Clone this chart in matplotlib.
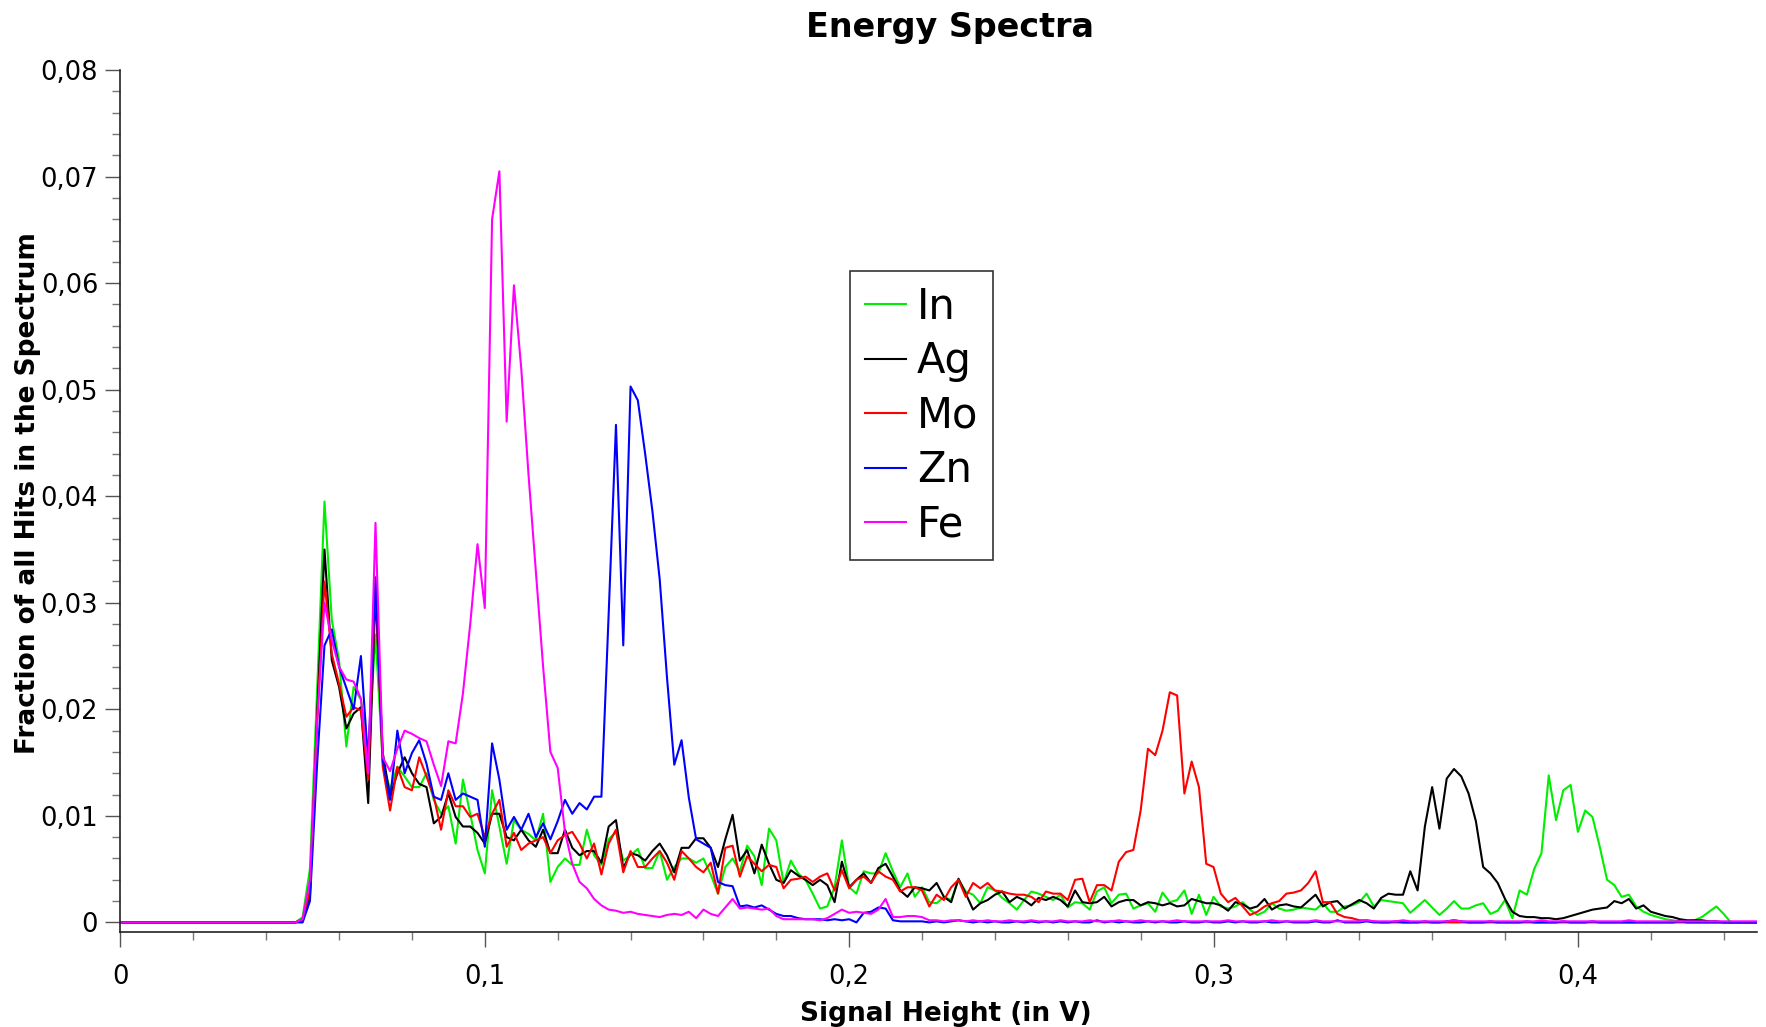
"""
plot.py

Energy spectra of the five targets (In, Ag, Mo, Zn, Fe).
- Fraction of all hits per 0.002 V bin of signal height.
- Saves the figure to out.png.
"""

from typing import List

from matplotlib import pyplot as plt
from matplotlib.ticker import MultipleLocator, FuncFormatter
import numpy as np


# bins of the spectrum: first bin at 0.040 V, 0.002 V wide (ten bins per row below)
bin_start: float = 0.040
bin_width: float = 0.002

elements: List[str] = ["In", "Ag", "Mo", "Zn", "Fe"]
colors: List[str] = ["#00ee00", "#000000", "#ff0000", "#0000ff", "#ff00ff"]

indium: List[float] = [
    0, 0, 0, 0, 0, 0.0005, 0.005, 0.022, 0.0395, 0.0284,
    0.0246, 0.0165, 0.0221, 0.0209, 0.016, 0.027, 0.0149, 0.0125, 0.0146, 0.0137,
    0.0127, 0.0127, 0.014, 0.0115, 0.0102, 0.0109, 0.0074, 0.0134, 0.0102, 0.0068,
    0.0046, 0.0124, 0.009, 0.0055, 0.0096, 0.0087, 0.0083, 0.0077, 0.0102, 0.0038,
    0.0052, 0.006, 0.0054, 0.0054, 0.0087, 0.0063, 0.0054, 0.0078, 0.0085, 0.0058,
    0.0063, 0.0069, 0.0051, 0.0051, 0.0067, 0.004, 0.0052, 0.006, 0.006, 0.0056,
    0.006, 0.0045, 0.0027, 0.0052, 0.006, 0.0048, 0.0072, 0.0062, 0.0035, 0.0088,
    0.0077, 0.0037, 0.0058, 0.0046, 0.004, 0.0027, 0.0013, 0.0015, 0.0033, 0.0077,
    0.0033, 0.0027, 0.0048, 0.0046, 0.0046, 0.0065, 0.0048, 0.0033, 0.0046, 0.0024,
    0.0033, 0.0019, 0.0018, 0.0024, 0.0021, 0.004, 0.0029, 0.0026, 0.0018, 0.0033,
    0.003, 0.0023, 0.0018, 0.0012, 0.0021, 0.0029, 0.0027, 0.0024, 0.0021, 0.0026,
    0.0014, 0.0019, 0.0018, 0.0012, 0.0029, 0.0033, 0.0018, 0.0026, 0.0027, 0.0013,
    0.0016, 0.0018, 0.001, 0.0028, 0.0019, 0.0021, 0.003, 0.0008, 0.0026, 0.0007,
    0.0024, 0.0015, 0.0013, 0.0015, 0.0019, 0.0012, 0.0007, 0.001, 0.0018, 0.0013,
    0.0011, 0.0012, 0.0014, 0.0013, 0.0012, 0.0018, 0.001, 0.001, 0.0015, 0.0016,
    0.0019, 0.0027, 0.0015, 0.0021, 0.002, 0.0019, 0.0018, 0.0009, 0.0015, 0.0021,
    0.0014, 0.0007, 0.0013, 0.002, 0.0013, 0.0013, 0.0016, 0.0018, 0.0008, 0.0011,
    0.0021, 0.0004, 0.003, 0.0026, 0.005, 0.0065, 0.0138, 0.0096, 0.0124, 0.0129,
    0.0085, 0.0105, 0.0099, 0.0071, 0.004, 0.0035, 0.0024, 0.0026, 0.0015, 0.001,
    0.0007, 0.0005, 0.0003, 0.0002, 0.0001, 0.0001, 0.0002, 0.0005, 0.001, 0.0015,
    0.0008, 0, 0, 0, 0, 0, 0, 0, 0, 0,
]

silver: List[float] = [
    0, 0, 0, 0, 0, 0.0002, 0.0024, 0.0196, 0.035, 0.0246,
    0.0221, 0.0182, 0.0196, 0.0202, 0.0112, 0.031, 0.0159, 0.0118, 0.014, 0.0155,
    0.014, 0.013, 0.0127, 0.0093, 0.0099, 0.0121, 0.0099, 0.009, 0.009, 0.0084,
    0.0074, 0.0102, 0.0102, 0.008, 0.0077, 0.0087, 0.0077, 0.0071, 0.0087, 0.0065,
    0.0065, 0.0087, 0.007, 0.0063, 0.0067, 0.0067, 0.0056, 0.009, 0.0096, 0.0051,
    0.0065, 0.0063, 0.0058, 0.0067, 0.0074, 0.0063, 0.0047, 0.007, 0.007, 0.0079,
    0.0079, 0.007, 0.0052, 0.0078, 0.0101, 0.0058, 0.0068, 0.0046, 0.0073, 0.0055,
    0.004, 0.0037, 0.0049, 0.0044, 0.004, 0.0035, 0.004, 0.0035, 0.0019, 0.0057,
    0.0033, 0.004, 0.0046, 0.0037, 0.0051, 0.0055, 0.0043, 0.003, 0.0024, 0.0033,
    0.0032, 0.003, 0.0037, 0.0024, 0.0019, 0.0041, 0.0027, 0.0012, 0.0018, 0.0021,
    0.0026, 0.0029, 0.0019, 0.0024, 0.0021, 0.0016, 0.0023, 0.0021, 0.0024, 0.0021,
    0.0015, 0.003, 0.0019, 0.0018, 0.0019, 0.0024, 0.0015, 0.0019, 0.0021, 0.0021,
    0.0016, 0.0019, 0.0018, 0.0016, 0.0018, 0.0015, 0.0016, 0.0022, 0.002, 0.0018,
    0.0018, 0.0016, 0.0011, 0.0019, 0.0017, 0.0013, 0.0015, 0.0022, 0.0012, 0.0016,
    0.0017, 0.0015, 0.0014, 0.002, 0.0026, 0.0015, 0.0019, 0.002, 0.0013, 0.0017,
    0.0021, 0.0018, 0.0013, 0.0023, 0.0027, 0.0026, 0.0026, 0.0048, 0.003, 0.009,
    0.0127, 0.0088, 0.0135, 0.0144, 0.0137, 0.0121, 0.0095, 0.0052, 0.0046, 0.0037,
    0.0022, 0.001, 0.0006, 0.0005, 0.0005, 0.0004, 0.0004, 0.0003, 0.0004, 0.0006,
    0.0008, 0.001, 0.0012, 0.0013, 0.0014, 0.002, 0.0018, 0.0022, 0.0013, 0.0016,
    0.001, 0.0008, 0.0006, 0.0005, 0.0003, 0.0002, 0.0002, 0.0002, 0.0001, 0.0001,
    0, 0, 0, 0, 0, 0, 0, 0, 0, 0,
]

molybdenum: List[float] = [
    0, 0, 0, 0, 0, 0.0003, 0.003, 0.019, 0.032, 0.0252,
    0.0224, 0.0193, 0.0202, 0.0199, 0.0134, 0.032, 0.0146, 0.0105, 0.0146, 0.0127,
    0.0124, 0.0155, 0.0137, 0.0118, 0.0087, 0.0124, 0.0109, 0.0109, 0.0099, 0.0102,
    0.008, 0.0102, 0.0115, 0.0071, 0.0084, 0.0068, 0.0074, 0.0077, 0.008, 0.0065,
    0.0077, 0.0082, 0.0085, 0.0074, 0.006, 0.0074, 0.0045, 0.0074, 0.0087, 0.0047,
    0.0067, 0.0052, 0.0052, 0.006, 0.0067, 0.0056, 0.004, 0.0067, 0.006, 0.0052,
    0.0047, 0.0056, 0.0027, 0.007, 0.0072, 0.0043, 0.0062, 0.0055, 0.0048, 0.0054,
    0.0052, 0.0032, 0.004, 0.0041, 0.0043, 0.0038, 0.0043, 0.0046, 0.003, 0.0049,
    0.0032, 0.004, 0.0043, 0.0037, 0.0048, 0.0043, 0.004, 0.0029, 0.0033, 0.0033,
    0.003, 0.0015, 0.0026, 0.0021, 0.0033, 0.004, 0.0024, 0.0037, 0.0032, 0.0037,
    0.003, 0.0029, 0.0027, 0.0026, 0.0026, 0.0024, 0.0019, 0.0029, 0.0027, 0.0027,
    0.0021, 0.004, 0.0041, 0.0019, 0.0035, 0.0035, 0.003, 0.0057, 0.0066, 0.0068,
    0.0105, 0.0163, 0.0157, 0.018, 0.0216, 0.0213, 0.0121, 0.0151, 0.0127, 0.0055,
    0.0052, 0.0027, 0.0019, 0.0023, 0.0015, 0.0007, 0.001, 0.0015, 0.0018, 0.002,
    0.0027, 0.0028, 0.003, 0.0037, 0.0048, 0.0019, 0.0019, 0.0008, 0.0005, 0.0004,
    0.0002, 0.0002, 0.0001, 0, 0, 0, 0, 0, 0, 0,
    0, 0, 0, 0, 0, 0, 0, 0, 0, 0,
    0, 0, 0, 0, 0, 0, 0, 0, 0, 0,
    0, 0, 0, 0, 0, 0, 0, 0, 0, 0,
    0, 0, 0, 0, 0, 0, 0, 0, 0, 0,
    0, 0, 0, 0, 0, 0, 0, 0, 0, 0,
]

zinc: List[float] = [
    0, 0, 0, 0, 0, 0, 0.002, 0.015, 0.026, 0.0275,
    0.024, 0.022, 0.02, 0.025, 0.015, 0.0324, 0.0152, 0.0115, 0.018, 0.014,
    0.0159, 0.0171, 0.0149, 0.0118, 0.0115, 0.014, 0.0115, 0.0121, 0.0118, 0.0115,
    0.0071, 0.0168, 0.0134, 0.0087, 0.0099, 0.0087, 0.0102, 0.008, 0.0093, 0.0078,
    0.0095, 0.0115, 0.0102, 0.0112, 0.0106, 0.0118, 0.0118, 0.029, 0.0467, 0.026,
    0.0503, 0.049, 0.044, 0.0386, 0.0322, 0.023, 0.0148, 0.0171, 0.0117, 0.0078,
    0.0074, 0.007, 0.0038, 0.0035, 0.0034, 0.0015, 0.0016, 0.0014, 0.0016, 0.0012,
    0.0008, 0.0006, 0.0006, 0.0004, 0.0003, 0.0003, 0.0003, 0.0002, 0.0003, 0.0002,
    0.0003, 0.0, 0.0009, 0.001, 0.0014, 0.0013, 0.0002, 0.0001, 0.0001, 0.0001,
    0.0001, 0.0, 0.0001, 0.0, 0.0001, 0.0002, 0.0001, 0.0, 0.0001, 0.0,
    0.0001, 0.0, 0.0, 0.0001, 0.0, 0.0001, 0.0, 0.0001, 0.0, 0.0001,
    0.0, 0.0001, 0.0, 0.0, 0.0002, 0.0, 0.0001, 0.0, 0.0001, 0.0,
    0.0, 0.0001, 0.0, 0.0001, 0.0, 0.0, 0.0001, 0.0, 0.0, 0.0001,
    0.0, 0.0, 0.0001, 0.0, 0.0001, 0.0, 0.0, 0.0001, 0.0, 0.0,
    0.0001, 0.0, 0.0, 0.0, 0.0001, 0.0, 0.0, 0.0002, 0.0, 0.0,
    0.0, 0.0001, 0.0, 0.0, 0.0, 0.0001, 0.0, 0.0, 0.0, 0.0001,
    0.0, 0.0, 0.0001, 0.0002, 0.0001, 0.0, 0.0, 0.0, 0.0001, 0.0,
    0.0, 0.0, 0.0, 0.0001, 0.0, 0.0, 0.0, 0.0, 0.0001, 0.0,
    0.0, 0.0, 0.0001, 0.0, 0.0, 0.0, 0.0, 0.0, 0.0, 0.0,
    0.0, 0.0, 0.0, 0.0, 0.0001, 0.0, 0.0, 0.0, 0.0, 0.0,
    0.0, 0.0, 0.0, 0.0, 0.0, 0.0, 0.0, 0.0, 0.0, 0.0,
]

iron: List[float] = [
    0, 0, 0, 0, 0, 0.0003, 0.004, 0.019, 0.03, 0.0265,
    0.024, 0.0228, 0.0226, 0.021, 0.014, 0.0375, 0.0155, 0.0142, 0.0163, 0.018,
    0.0177, 0.0173, 0.017, 0.0148, 0.0128, 0.017, 0.0168, 0.0215, 0.028, 0.0355,
    0.0295, 0.066, 0.0705, 0.047, 0.0598, 0.052, 0.042, 0.033, 0.024, 0.016,
    0.0145, 0.0085, 0.0055, 0.0038, 0.0032, 0.0022, 0.0016, 0.0012, 0.0011, 0.0009,
    0.001, 0.0008, 0.0007, 0.0006, 0.0005, 0.0007, 0.0008, 0.0007, 0.001, 0.0004,
    0.0012, 0.0008, 0.0006, 0.0014, 0.0022, 0.0013, 0.0014, 0.0013, 0.0012, 0.0013,
    0.0006, 0.0003, 0.0003, 0.0003, 0.0003, 0.0003, 0.0002, 0.0004, 0.0008, 0.0012,
    0.0009, 0.001, 0.0009, 0.0008, 0.0012, 0.0022, 0.0005, 0.0005, 0.0006, 0.0006,
    0.0005, 0.0002, 0.0002, 0.0001, 0.0002, 0.0002, 0.0001, 0.0002, 0.0001, 0.0002,
    0.0001, 0.0001, 0.0002, 0.0001, 0.0001, 0.0002, 0.0001, 0.0001, 0.0001, 0.0002,
    0.0001, 0.0001, 0.0001, 0.0002, 0.0001, 0.0001, 0.0001, 0.0002, 0.0001, 0.0001,
    0.0002, 0.0001, 0.0001, 0.0001, 0.0001, 0.0002, 0.0001, 0.0001, 0.0001, 0.0001,
    0.0001, 0.0001, 0.0002, 0.0001, 0.0001, 0.0001, 0.0001, 0.0001, 0.0002, 0.0001,
    0.0001, 0.0001, 0.0001, 0.0001, 0.0002, 0.0001, 0.0001, 0.0001, 0.0001, 0.0001,
    0.0001, 0.0002, 0.0001, 0.0001, 0.0001, 0.0001, 0.0002, 0.0001, 0.0001, 0.0001,
    0.0001, 0.0001, 0.0001, 0.0002, 0.0001, 0.0001, 0.0001, 0.0001, 0.0001, 0.0001,
    0.0001, 0.0001, 0.0001, 0.0001, 0.0001, 0.0002, 0.0001, 0.0001, 0.0001, 0.0001,
    0.0001, 0.0001, 0.0001, 0.0001, 0.0001, 0.0001, 0.0001, 0.0002, 0.0001, 0.0001,
    0.0001, 0.0001, 0.0001, 0.0001, 0.0001, 0.0001, 0.0001, 0.0001, 0.0001, 0.0001,
    0.0001, 0.0001, 0.0001, 0.0001, 0.0001, 0.0001, 0.0001, 0.0001, 0.0001, 0.0001,
]

x_ticks: List[float] = [0.0, 0.1, 0.2, 0.3, 0.4]
y_ticks: List[float] = [0.0, 0.01, 0.02, 0.03, 0.04, 0.05, 0.06, 0.07, 0.08]


def comma_label(value: float, pos: int, digits: int) -> str:
    """
    Tick label with a decimal comma, plain 0 at the origin.
    """

    if abs(value) < 1e-9:
        return "0"
    return f"{value:.{digits}f}".replace(".", ",")


fig = plt.figure(figsize=(17.66, 10.27), dpi=100)
ax = fig.add_axes([0.0682, 0.0925, 0.9268, 0.8393])

spectra: List[List[float]] = [indium, silver, molybdenum, zinc, iron]
for name, color, values in zip(elements, colors, spectra):
    signal = bin_start + bin_width * np.arange(len(values))

    # the spectrum is flat zero from the origin up to the first bin
    ax.plot(np.r_[0.0, signal], np.r_[0.0, values], color=color, lw=1.5, label=name)

ax.set_xlim(0, 0.4492)
ax.set_ylim(-0.0009, 0.08)

# axes: only left and bottom, ticks outside
for side in ["top", "right"]:
    ax.spines[side].set_visible(False)
for side in ["left", "bottom"]:
    ax.spines[side].set_color("#222222")
    ax.spines[side].set_linewidth(1.2)

ax.set_xticks(x_ticks)
ax.set_yticks(y_ticks)
ax.xaxis.set_minor_locator(MultipleLocator(0.02))
ax.yaxis.set_minor_locator(MultipleLocator(0.002))
ax.xaxis.set_major_formatter(FuncFormatter(lambda v, p: comma_label(v, p, 1)))
ax.yaxis.set_major_formatter(FuncFormatter(lambda v, p: comma_label(v, p, 2)))
ax.tick_params(which="major", length=11, width=1, color="#555555", direction="out")
ax.tick_params(which="minor", length=6, width=1, color="#777777", direction="out")
ax.tick_params(axis="y", which="major", labelsize=18.5, pad=5)
ax.tick_params(axis="x", which="major", labelsize=18.5, pad=12)

ax.set_title("Energy Spectra", fontsize=24, fontweight="bold", x=0.507, pad=24)
ax.set_xlabel("Signal Height (in V)", fontsize=19, fontweight="bold", x=0.504, labelpad=8)
ax.set_ylabel("Fraction of all Hits in the Spectrum", fontsize=19, fontweight="bold",
              y=0.509, labelpad=0)

legend = ax.legend(loc="upper left", bbox_to_anchor=(0.4458, 0.7667), borderaxespad=0,
                   fontsize=30, handlelength=1.0, handletextpad=0.25, labelspacing=0.3,
                   borderpad=0.35, fancybox=False, framealpha=1)
legend.get_frame().set_edgecolor("#333333")
legend.get_frame().set_linewidth(1.2)

fig.savefig("out.png", dpi=100)
